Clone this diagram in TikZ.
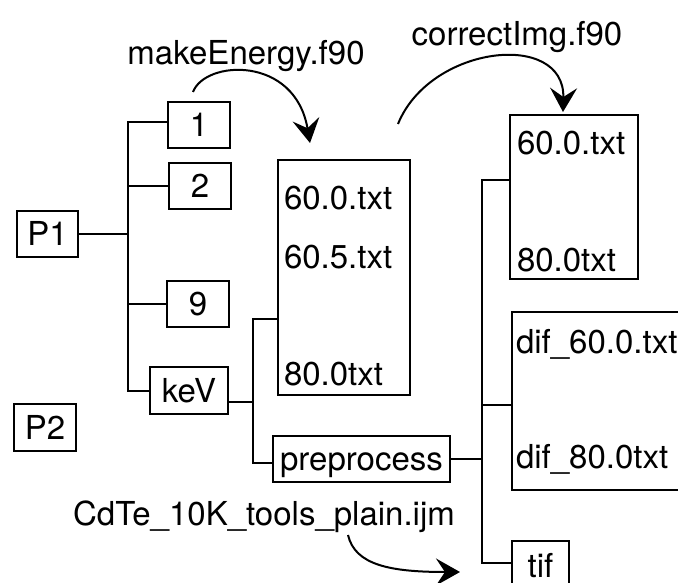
\documentclass[tikz,border=0pt]{standalone}
\usepackage{fontspec}
\setmainfont{TeX Gyre Heros}
\usetikzlibrary{arrows.meta}

\begin{document}
\begin{tikzpicture}[x=1pt, y=-1pt, line width=2pt, font=\fontsize{33}{40}\selectfont,
box/.style = {draw, rectangle, inner sep=0pt, minimum height=46pt, text height=23pt, text depth=0pt},
file/.style = {anchor=base west, inner sep=0pt},
lbl/.style = {anchor=base, inner sep=0pt},
flow/.style = {-{Stealth[length=24pt, width=27pt, inset=9pt]}}]

    \useasboundingbox (0,0) rectangle (678,583);

    \node[box, minimum width=61pt](P1) at (47.5,234) {P1};
    \node[box, minimum width=62pt, minimum height=47pt](P2) at (45,427.5) {P2};

    \node[box, minimum width=62pt](n1) at (199,125) {1};
    \node[box, minimum width=62pt](n2) at (200,186.5) {2};
    \node[box, minimum width=62pt](n9) at (198,304) {9};
    \node[box, minimum width=78pt, minimum height=47pt](keV) at (189,390.5) {keV};

    \node[box, minimum width=132pt, minimum height=235pt](fA) at (344,277.5) {};
    \node[file](a1) at (283,210) {60.0.txt};
    \node[file](a2) at (283,268) {60.5.txt};
    \node[file](a3) at (283,385) {80.0txt};

    \node[box, minimum width=177pt](pre) at (361.5,459) {preprocess};

    \node[box, minimum width=128pt, minimum height=164pt](fB) at (574,197) {};
    \node[file](b1) at (516,155) {60.0.txt};
    \node[file](b2) at (516,271) {80.0txt};

    \node[box, minimum width=188pt, minimum height=178pt](fC) at (606,401) {};
    \node[file](c1) at (515,353) {dif\_60.0.txt};
    \node[file](c2) at (515,468) {dif\_80.0txt};

    \node[box, minimum width=57pt, minimum height=50pt](tif) at (540.5,566) {tif};

    \node[lbl](mk) at (246,65) {makeEnergy.f90};
    \node[lbl](ci) at (517,46) {correctImg.f90};
    \node[lbl](cd) at (264,525) {CdTe\_10K\_tools\_plain.ijm};

    % P1 tree
    \coordinate (t0) at (128,122);
    \draw (P1.east) -- (P1.east -| t0);
    \draw (n1.west |- t0) -- (t0) -- (t0 |- keV.west) -- (keV.west);
    \draw (n2.west) -- (n2.west -| t0);
    \draw (n9.west) -- (n9.west -| t0);

    % keV tree
    \coordinate (k) at (253,402);
    \coordinate (j0) at (253,319);
    \coordinate (j1) at (253,463);
    \draw (keV.east |- k) -- (k);
    \draw (fA.west |- j0) -- (j0) -- (j1) -- (j1 -| pre.west);

    % preprocess tree
    \coordinate (m0) at (482,180);
    \coordinate (m1) at (482,563);
    \coordinate (m2) at (482,405);
    \draw (pre.east) -- (pre.east -| m0);
    \draw (fB.west |- m0) -- (m0) -- (m1) -- (m1 -| tif.west);
    \draw (m2) -- (m2 -| fC.west);

    % programs
    \coordinate (mk0) at (193,92);
    \coordinate (mk1) at (310,143);
    \coordinate (ci0) at (398,124);
    \coordinate (ci1) at (563,112);
    \coordinate (cd0) at (348,535);
    \coordinate (cd1) at (460,572);
    \draw [flow] (mk0) .. controls (205,60) and (295,55) .. (mk1);
    \draw [flow] (ci0) .. controls (430,45) and (565,30) .. (ci1);
    \draw [flow] (cd0) .. controls (355,565) and (390,572) .. (cd1);

\end{tikzpicture}
\end{document}
